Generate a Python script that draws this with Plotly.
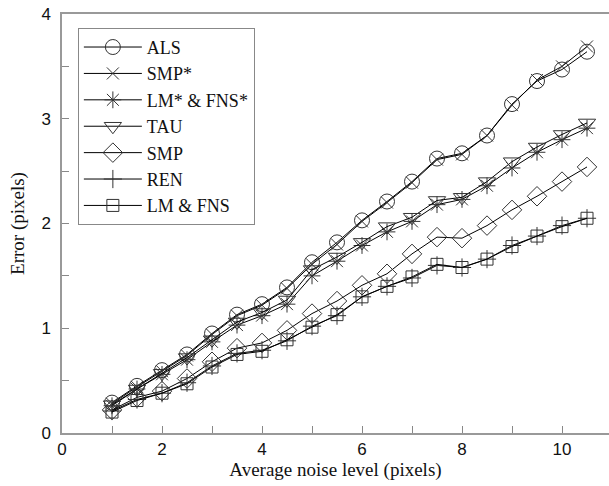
import plotly.graph_objects as go

noise = [1, 1.5, 2, 2.5, 3, 3.5, 4, 4.5, 5, 5.5, 6, 6.5, 7, 7.5, 8, 8.5, 9, 9.5, 10, 10.5]

als = [0.29, 0.45, 0.60, 0.75, 0.95, 1.13, 1.23, 1.39, 1.63, 1.82, 2.03, 2.21, 2.40, 2.62, 2.67, 2.84, 3.14, 3.36, 3.47, 3.64]
smp_star = [0.28, 0.44, 0.59, 0.74, 0.94, 1.12, 1.22, 1.38, 1.61, 1.80, 2.02, 2.20, 2.39, 2.61, 2.66, 2.84, 3.13, 3.37, 3.50, 3.69]
lm_fns_star = [0.26, 0.42, 0.56, 0.70, 0.87, 1.03, 1.12, 1.23, 1.50, 1.64, 1.79, 1.92, 2.02, 2.18, 2.23, 2.36, 2.53, 2.68, 2.80, 2.91]
tau = [0.27, 0.42, 0.57, 0.72, 0.89, 1.06, 1.15, 1.27, 1.56, 1.68, 1.82, 1.97, 2.06, 2.22, 2.25, 2.40, 2.59, 2.73, 2.85, 2.96]
smp = [0.22, 0.34, 0.40, 0.52, 0.68, 0.81, 0.86, 0.98, 1.14, 1.26, 1.41, 1.52, 1.71, 1.87, 1.86, 1.98, 2.13, 2.26, 2.40, 2.54]
ren = [0.21, 0.32, 0.38, 0.48, 0.64, 0.76, 0.79, 0.88, 1.02, 1.12, 1.30, 1.40, 1.48, 1.60, 1.58, 1.66, 1.79, 1.88, 1.98, 2.05]
lm_fns = [0.20, 0.31, 0.38, 0.47, 0.63, 0.75, 0.78, 0.89, 1.01, 1.13, 1.30, 1.40, 1.49, 1.61, 1.58, 1.66, 1.78, 1.88, 1.97, 2.05]

series = [
    ("ALS", als, "circle-open", 15),
    ("SMP*", smp_star, "x-thin-open", 12),
    ("LM* & FNS*", lm_fns_star, "asterisk-open", 14),
    ("TAU", tau, "triangle-down-open", 15),
    ("SMP", smp, "diamond-open", 15),
    ("REN", ren, "cross-thin-open", 13),
    ("LM & FNS", lm_fns, "square-open", 12),
]

fig = go.Figure()
for name, vals, sym, sz in series:
    fig.add_trace(go.Scatter(
        x=noise, y=vals, name=name, mode="lines+markers",
        line=dict(color="black", width=1),
        marker=dict(symbol=sym, size=sz, color="#333333", line=dict(color="#333333", width=1)),
    ))

tick_font = dict(family="Liberation Sans, Arial, sans-serif", size=17, color="#111111")
title_font = dict(family="Liberation Serif, Times New Roman, serif", size=19, color="#111111")

fig.update_layout(
    width=609, height=486,
    margin=dict(l=62, r=0, t=14, b=53, autoexpand=False),
    paper_bgcolor="white", plot_bgcolor="white",
    showlegend=True,
    legend=dict(
        x=0.029, y=0.967, xanchor="left", yanchor="top",
        bordercolor="#888888", borderwidth=1, bgcolor="white",
        font=dict(family="Liberation Serif, Times New Roman, serif", size=18, color="#111111"),
        tracegroupgap=0, itemwidth=58,
    ),
    xaxis=dict(
        range=[0, 10.94], tickmode="array", tickvals=[0, 2, 4, 6, 8, 10],
        ticks="inside", ticklen=7, tickcolor="#888888", tickwidth=1,
        minor=dict(tickvals=[1, 3, 5, 7, 9], ticks="inside", ticklen=7, tickcolor="#888888"),
        showline=True, linecolor="#999999", linewidth=1.5, mirror=True,
        showgrid=False, zeroline=False, tickfont=tick_font, automargin=False,
        title=dict(text="Average noise level (pixels)", font=title_font, standoff=4),
    ),
    yaxis=dict(
        range=[0, 4], tickmode="array", tickvals=[0, 1, 2, 3, 4],
        ticks="inside", ticklen=7, tickcolor="#888888", tickwidth=1,
        minor=dict(tickvals=[0.5, 1.5, 2.5, 3.5], ticks="inside", ticklen=7, tickcolor="#888888"),
        showline=True, linecolor="#999999", linewidth=1.5,
        showgrid=False, zeroline=False, tickfont=tick_font, ticklabelstandoff=6, automargin=False,
        title=dict(text="Error (pixels)", font=title_font, standoff=12),
    ),
)

# remove the page's default 8px body margin so the figure fills the window
fig.write_html("out.html", config={"displayModeBar": False},
               post_script="document.body.style.margin='0';")
